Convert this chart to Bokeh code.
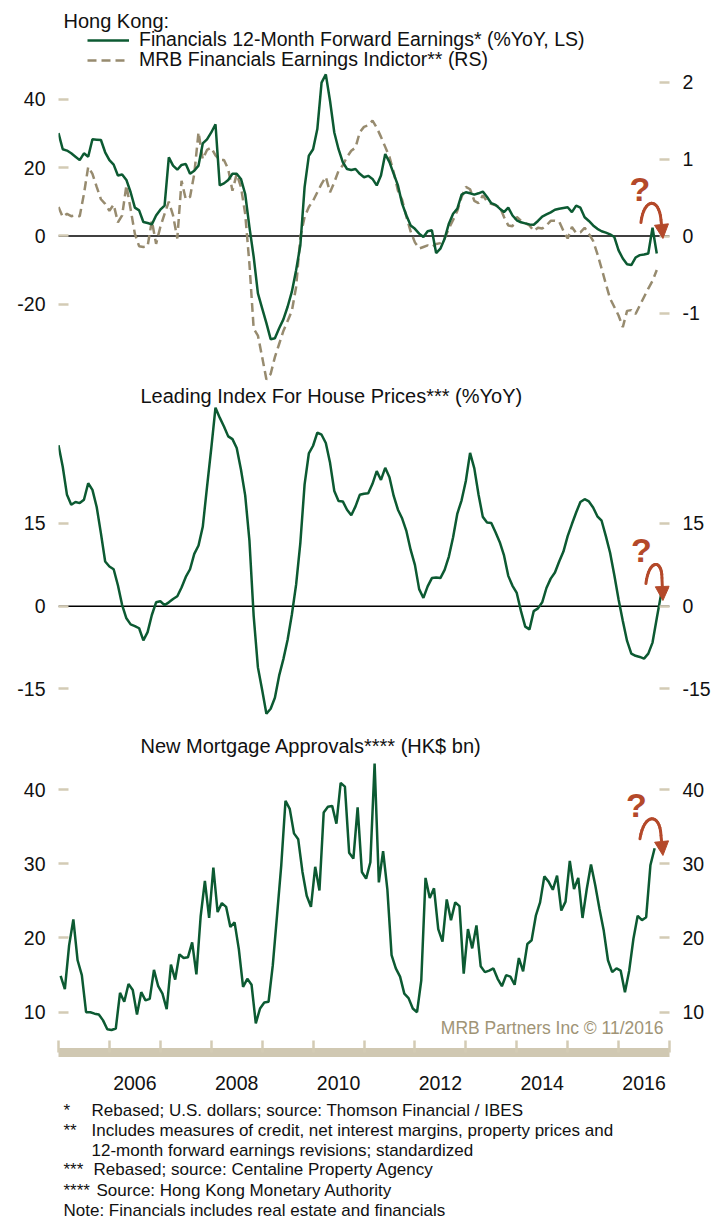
from bokeh.plotting import figure
from bokeh.models import (Range1d, LinearAxis, FixedTicker, Span, Label, Legend, LegendItem,
                          Arrow, NormalHead)
from bokeh.layouts import column
from bokeh.embed import file_html
from bokeh.resources import INLINE

FIRST_YEAR = 2005

# ---------------- data (monthly, from Jan 2005) ----------------
fin_fwd_earnings = [
    30.1, 25.4, 25.0, 24.2, 23.2, 22.2, 24.2, 23.2, 28.3, 28.2,
    28.1, 24.5, 22.2, 20.9, 17.7, 18.0, 16.4, 12.8, 8.3, 7.5,
    4.1, 3.8, 3.4, 6.0, 7.7, 8.9, 23.0, 20.6, 19.4, 20.8,
    21.1, 18.2, 19.1, 20.6, 27.1, 28.3, 30.3, 32.7, 14.8, 15.4,
    16.4, 18.2, 18.2, 16.7, 12.3, 2.6, -6.1, -16.8, -21.2, -25.5,
    -30.2, -29.9, -27.0, -24.4, -20.7, -16.3, -10.0, -2.7, 14.3, 23.5,
    25.4, 31.3, 44.9, 47.3, 39.5, 30.3, 25.4, 21.6, 19.6, 19.3,
    19.6, 18.2, 17.2, 17.6, 16.7, 14.8, 17.7, 24.0, 21.6, 18.2,
    14.8, 9.4, 6.0, 3.1, 2.1, 0.7, -0.3, 1.4, 1.7, -5.0,
    -3.7, -0.8, 3.6, 6.5, 8.0, 12.1, 12.8, 12.5, 12.1, 12.5,
    13.0, 11.4, 9.6, 9.1, 8.0, 7.0, 8.3, 6.0, 4.6, 4.0,
    3.7, 3.4, 3.3, 4.4, 5.7, 6.3, 6.9, 7.7, 8.0, 8.2,
    8.4, 7.0, 8.9, 8.3, 5.5, 4.4, 3.1, 2.1, 1.4, 1.0,
    0.5, -0.3, -4.2, -6.6, -8.3, -8.5, -6.3, -5.6, -5.4, -5.1,
    2.4, -5.1,
]

mrb_indicator = [
    0.38, 0.25, 0.29, 0.26, 0.27, 0.26, 0.55, 0.90, 0.81, 0.64,
    0.48, 0.42, 0.33, 0.41, 0.18, 0.27, 0.66, 0.35, 0.03, -0.13,
    -0.14, -0.13, 0.20, -0.10, 0.12, 0.29, 0.45, 0.27, -0.03, 0.72,
    0.48, 0.51, 0.81, 1.35, 1.00, 1.12, 1.15, 1.05, 0.99, 0.99,
    0.87, 0.59, 0.81, 0.64, 0.29, -0.36, -1.20, -1.29, -1.57, -1.86,
    -1.79, -1.57, -1.40, -1.23, -1.10, -0.97, -0.66, -0.01, 0.25, 0.38,
    0.46, 0.57, 0.68, 0.77, 0.57, 0.70, 0.85, 0.92, 1.03, 1.11,
    1.15, 1.35, 1.42, 1.44, 1.50, 1.41, 1.29, 1.16, 1.03, 0.83,
    0.59, 0.47, 0.25, 0.06, -0.08, -0.16, -0.14, -0.12, -0.14, -0.10,
    -0.09, -0.03, 0.10, 0.21, 0.33, 0.51, 0.64, 0.61, 0.46, 0.43,
    0.53, 0.45, 0.42, 0.40, 0.38, 0.25, 0.14, 0.13, 0.25, 0.20,
    0.17, 0.14, 0.07, 0.11, 0.10, 0.14, 0.20, 0.20, 0.19, 0.07,
    -0.03, 0.12, 0.04, 0.05, 0.11, 0.03, -0.06, -0.23, -0.42, -0.62,
    -0.81, -0.92, -1.03, -1.18, -0.97, -0.96, -1.01, -0.90, -0.79, -0.68,
    -0.58, -0.44,
]

house_leading_index = [
    29.2, 25.3, 20.2, 18.4, 18.9, 18.7, 19.3, 22.3, 21.1, 18.0,
    13.2, 8.1, 7.2, 6.7, 3.8, 0.2, -2.2, -3.3, -3.6, -4.0,
    -6.2, -4.7, -1.6, 0.7, 0.9, 0.2, 0.7, 1.3, 1.8, 3.4,
    5.3, 6.7, 9.5, 11.0, 14.4, 21.6, 28.6, 36.0, 34.2, 32.6,
    30.8, 30.3, 28.7, 24.8, 20.1, 11.9, -1.8, -11.1, -15.2, -19.5,
    -18.6, -16.6, -12.6, -9.6, -6.1, -1.5, 3.9, 11.5, 22.1, 27.7,
    29.1, 31.5, 31.1, 29.6, 26.0, 20.9, 19.1, 19.0, 17.5, 16.5,
    18.1, 20.2, 20.4, 20.5, 22.2, 24.5, 22.9, 25.1, 23.4, 20.0,
    17.5, 15.9, 13.6, 10.2, 7.5, 3.1, 1.5, 3.6, 5.1, 5.2,
    5.1, 6.6, 9.0, 12.5, 16.8, 19.2, 22.7, 27.8, 25.0, 20.2,
    16.2, 15.2, 15.1, 13.4, 11.6, 9.2, 5.5, 3.7, 2.4, -0.9,
    -3.7, -4.2, -0.9, -0.4, 0.7, 3.3, 5.0, 6.1, 8.1, 9.9,
    12.7, 14.9, 17.0, 18.9, 19.4, 19.0, 17.9, 16.3, 15.5, 12.7,
    9.7, 5.6, 1.2, -2.7, -6.3, -8.6, -9.0, -9.2, -9.5, -8.6,
    -6.6, -2.2, 2.1,
]

mortgage_approvals = [
    14.9, 13.1, 19.0, 22.5, 17.0, 15.0, 10.0, 10.0, 9.8, 9.7,
    8.9, 7.7, 7.6, 7.8, 12.6, 11.4, 13.8, 13.0, 9.7, 12.7,
    11.6, 11.8, 15.7, 13.5, 12.5, 10.4, 16.4, 14.4, 17.8, 17.3,
    17.4, 19.4, 15.1, 22.9, 27.7, 22.7, 29.5, 23.5, 24.7, 24.2,
    21.5, 22.1, 18.5, 13.4, 14.5, 13.7, 8.5, 10.5, 11.3, 11.4,
    16.3, 23.0, 29.8, 38.5, 37.4, 34.1, 33.3, 28.9, 25.7, 24.2,
    29.6, 26.4, 36.9, 37.7, 37.8, 35.4, 40.9, 40.4, 31.5, 30.7,
    37.6, 28.9, 28.0, 30.2, 43.5, 27.5, 31.7, 26.6, 17.7, 15.9,
    14.8, 12.5, 11.9, 10.5, 10.0, 14.3, 28.1, 25.4, 26.7, 21.2,
    19.5, 25.2, 22.4, 24.8, 24.3, 15.2, 21.2, 18.6, 21.7, 16.2,
    15.4, 15.6, 15.9, 14.5, 13.5, 15.0, 14.8, 13.7, 17.3, 15.5,
    19.2, 19.7, 23.0, 24.8, 28.3, 27.6, 26.5, 28.4, 23.7, 24.9,
    30.4, 26.6, 28.1, 22.7, 26.6, 29.9, 27.1, 23.9, 21.0, 17.0,
    15.4, 15.9, 15.6, 12.7, 15.6, 19.9, 23.0, 22.4, 22.8, 29.8,
    32.1,
]

earnings_ticks_left = [-20, 0, 20, 40]
earnings_ticks_right = [-1, 0, 1, 2]
house_ticks = [-15, 0, 15]
mortgage_ticks = [10, 20, 30, 40]
year_labels = ["2006", "2008", "2010", "2012", "2014", "2016"]
year_boundaries = list(range(2005, 2018))

legend_title = "Hong Kong:"
label_earnings = "Financials 12-Month Forward Earnings* (%YoY, LS)"
label_mrb = "MRB Financials Earnings Indictor** (RS)"
title_house = "Leading Index For House Prices*** (%YoY)"
title_mortgage = "New Mortgage Approvals**** (HK$ bn)"
watermark = "MRB Partners Inc \u00a9 11/2016"
footnote_marks = ["*", "**", "", "***", "****", ""]
footnote_texts = [
    "Rebased; U.S. dollars; source: Thomson Financial / IBES",
    "Includes measures of credit, net interest margins, property prices and",
    "12-month forward earnings revisions; standardized",
    "Rebased; source: Centaline Property Agency",
    "Source: Hong Kong Monetary Authority",
    "Note: Financials includes real estate and financials",
]


def months(n, offset=0.0):
    return [FIRST_YEAR + (i + offset) / 12 for i in range(n)]


# ---------------- style ----------------
FONT = "Liberation Sans"
GREEN = "#0c5a32"
TAN = "#978b6f"
BEIGE = "#d3cbb5"
BAND = "#d0c8b2"
RUST = "#b4492a"
TXT = "#111111"
W = 724
BL, BR = 58, 55


def base_fig(height, top, bottom, y_range, x_axis=None):
    p = figure(width=W, height=height, x_range=Range1d(2005, 2017), y_range=y_range,
               output_backend="svg", toolbar_location=None, x_axis_location=x_axis,
               min_border_left=BL, min_border_right=BR, min_border_top=top,
               min_border_bottom=bottom)
    p.outline_line_color = None
    p.grid.visible = False
    p.background_fill_color = "white"
    p.border_fill_color = "white"
    return p


def style_y(ax, ticks):
    ax.ticker = FixedTicker(ticks=ticks)
    ax.major_label_overrides = {t: str(t) for t in ticks if t < 0}
    ax.axis_line_color = None
    ax.major_tick_in = 10
    ax.major_tick_out = 0
    ax.major_tick_line_color = BEIGE
    ax.major_tick_line_width = 2.5
    ax.minor_tick_line_color = None
    ax.major_label_standoff = 13
    ax.major_label_text_font = FONT
    ax.major_label_text_font_size = "19.5px"
    ax.major_label_text_color = TXT


def bez(p0, p1, p2, p3, t):
    u = 1 - t
    return (u**3 * p0[0] + 3 * u * u * t * p1[0] + 3 * u * t * t * p2[0] + t**3 * p3[0],
            u**3 * p0[1] + 3 * u * u * t * p1[1] + 3 * u * t * t * p2[1] + t**3 * p3[1])


def question_arrow(p, q, arc, tip):
    p.add_layout(Label(x=q[0], y=q[1], text="?", text_font=FONT, text_font_style="bold",
                       text_font_size="34px", text_color=RUST, text_align="center",
                       text_baseline="middle"))
    n = 16
    pts = [bez(*arc, i / n) for i in range(n + 1)]
    for a, b in zip(pts[:-1], pts[1:]):
        p.add_layout(Arrow(start=None, end=None, x_start=a[0], y_start=a[1], x_end=b[0],
                           y_end=b[1], line_color=RUST, line_width=3, line_cap="round"))
    p.add_layout(Arrow(end=NormalHead(size=14, fill_color=RUST, line_color=RUST, line_width=1),
                       x_start=arc[3][0], y_start=arc[3][1], x_end=tip[0], y_end=tip[1],
                       line_color=RUST, line_width=3))


def screen_label(p, x, y, text, size, color=TXT, align="left"):
    p.add_layout(Label(x=x, y=y, x_units="screen", y_units="screen", text=text,
                       text_font=FONT, text_font_size=size, text_color=color,
                       text_align=align, text_baseline="middle"))


def one_item_legend(p, label, renderer, vy):
    p.add_layout(Legend(items=[LegendItem(label=label, renderers=[renderer])],
                        location=(29, vy), orientation="vertical", padding=0, margin=0,
                        spacing=0, glyph_width=42, glyph_height=20, label_height=20,
                        label_standoff=10, border_line_color=None, background_fill_alpha=0,
                        label_text_font=FONT, label_text_font_size="19.5px",
                        label_text_color=TXT))


# ---------------- panel 1 (frame extends up over the header) ----------------
p1 = base_fig(384, 0, 0, Range1d(-43.46, 68.92))
p1.extra_y_ranges = {"rs": Range1d(-1.926, 3.061)}
style_y(p1.yaxis[0], earnings_ticks_left)
ax_r1 = LinearAxis(y_range_name="rs")
style_y(ax_r1, earnings_ticks_right)
p1.add_layout(ax_r1, "right")
p1.add_layout(Span(location=0, dimension="width", line_color="black", line_width=1.5,
                   level="underlay"))
r_mrb = p1.line(months(len(mrb_indicator)), mrb_indicator, y_range_name="rs",
                line_color=TAN, line_width=2.5, line_dash="9 5")
r_fin = p1.line(months(len(fin_fwd_earnings)), fin_fwd_earnings, line_color=GREEN,
                line_width=2.5)
one_item_legend(p1, label_earnings, r_fin, 333)
one_item_legend(p1, label_mrb, r_mrb, 313)
screen_label(p1, 5, 364, legend_title, "20px")
question_arrow(p1, (2016.42, 13.9),
               [(2016.439, 3.95), (2016.498, 11.27), (2016.793, 11.27), (2016.832, 4.83)],
               (2016.871, -0.73))

# ---------------- panel 2 ----------------
p2 = base_fig(336, 0, 2, Range1d(-20.37, 40.21))
style_y(p2.yaxis[0], house_ticks)
ax_r2 = LinearAxis()
style_y(ax_r2, house_ticks)
p2.add_layout(ax_r2, "right")
p2.add_layout(Span(location=0, dimension="width", line_color="black", line_width=1.5,
                   level="underlay"))
p2.line(months(len(house_leading_index)), house_leading_index, line_color=GREEN,
        line_width=2.5)
screen_label(p2, 82, 323, title_house, "20px")
question_arrow(p2, (2016.45, 10.28),
               [(2016.537, 4.12), (2016.596, 8.53), (2016.851, 8.53), (2016.851, 5.21)],
               (2016.871, 1.03))

# ---------------- panel 3 ----------------
p3 = base_fig(380, 0, 48, Range1d(4.57, 49.31), x_axis="below")
style_y(p3.yaxis[0], mortgage_ticks)
ax_r3 = LinearAxis()
style_y(ax_r3, mortgage_ticks)
p3.add_layout(ax_r3, "right")
p3.line(months(len(mortgage_approvals), 0.5), mortgage_approvals, line_color=GREEN,
        line_width=2.5)
xa = p3.xaxis[0]
label_pos = [int(y) + 0.5 for y in year_labels]
xa.ticker = FixedTicker(ticks=label_pos, minor_ticks=year_boundaries)
xa.major_label_overrides = {pos: lbl for pos, lbl in zip(label_pos, year_labels)}
xa.major_tick_in = 0
xa.major_tick_out = 0
xa.minor_tick_in = 12
xa.minor_tick_out = 0
xa.minor_tick_line_color = BEIGE
xa.minor_tick_line_width = 2.5
xa.axis_line_color = BAND
xa.axis_line_width = 9
xa.major_label_standoff = 23
xa.major_label_text_font = FONT
xa.major_label_text_font_size = "19.5px"
xa.major_label_text_color = TXT
screen_label(p3, 82, 307, title_mortgage, "20px")
screen_label(p3, 605, 25, watermark, "17.5px", color="#a09476", align="right")
question_arrow(p3, (2016.351, 37.99),
               [(2016.42, 33.37), (2016.498, 36.87), (2016.812, 36.87), (2016.832, 33.88)],
               (2016.871, 31.12))

# ---------------- footnotes (frame aligned with the panels above) ----------------
p4 = figure(width=W, height=120, x_range=Range1d(0, 1), y_range=Range1d(0, 120),
            output_backend="svg", toolbar_location=None, x_axis_location=None,
            y_axis_location=None, min_border_left=BL, min_border_right=BR,
            min_border_top=0, min_border_bottom=0)
p4.outline_line_color = None
p4.grid.visible = False
foot_y = [110, 90, 70, 51, 30, 10]
foot_x = [33, 33, 33, 35, 38, 5]
for mark, txt, fy, fx in zip(footnote_marks, footnote_texts, foot_y, foot_x):
    if mark:
        screen_label(p4, 5, fy, mark, "17px")
    screen_label(p4, fx, fy, txt, "17px")

layout = column(p1, p2, p3, p4)
open("out.html", "w").write(file_html(layout, INLINE))
